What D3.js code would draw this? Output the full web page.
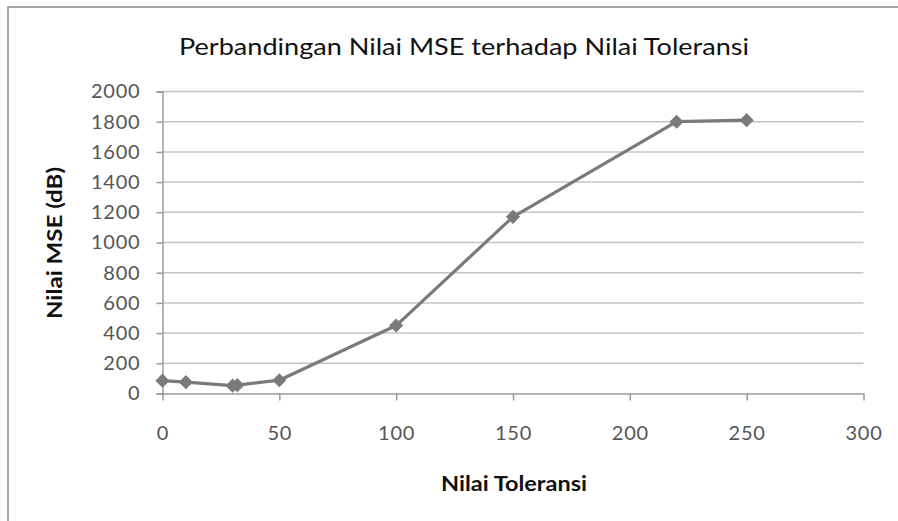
<!DOCTYPE html>
<html>
<head>
<meta charset="utf-8">
<script src="https://cdn.jsdelivr.net/npm/d3@7"></script>
<style>
  html, body { margin: 0; padding: 0; background: #fff; }
  svg { display: block; }
  text { font-family: Lato, "Open Sans", sans-serif; }
</style>
</head>
<body>
<script>
const tolerance = [0, 10, 30, 32, 50, 100, 150, 220, 250];
const mse = [85, 75, 52, 55, 88, 450, 1170, 1800, 1810];
const xTicks = [0, 50, 100, 150, 200, 250, 300];
const yTicks = [0, 200, 400, 600, 800, 1000, 1200, 1400, 1600, 1800, 2000];
const title = "Perbandingan Nilai MSE terhadap Nilai Toleransi";
const xTitle = "Nilai Toleransi";
const yTitle = "Nilai MSE (dB)";

const W = 898, H = 521;
const svg = d3.select("body").append("svg").attr("width", W).attr("height", H);

// outer frame
svg.append("rect").attr("x", 8).attr("y", 7).attr("width", W + 10).attr("height", H + 10)
  .attr("fill", "#fff").attr("stroke", "#8a8a8a").attr("stroke-width", 1.5);

const x = d3.scaleLinear().domain([0, 300]).range([162.5, 863.5]);
const y = d3.scaleLinear().domain([0, 2000]).range([393.5, 91.5]);

// gridlines
svg.append("g").selectAll("line").data(yTicks.filter(d => d > 0)).join("line")
  .attr("x1", x(0)).attr("x2", x(300))
  .attr("y1", d => y(d)).attr("y2", d => y(d))
  .attr("stroke", "#c4c4c4").attr("stroke-width", 1.5);

// y axis
const yAxis = svg.append("g").attr("transform", `translate(${x(0)},0)`)
  .call(d3.axisLeft(y).tickValues(yTicks).tickSize(6).tickPadding(16).tickFormat(d3.format("d")));
yAxis.select(".domain").attr("stroke", "#9a9a9a").attr("stroke-width", 1.5);
yAxis.selectAll(".tick line").attr("stroke", "#9a9a9a").attr("stroke-width", 1.5);
yAxis.selectAll(".tick text").attr("fill", "#555").style("font-size", "20px")
  .style("letter-spacing", "0.8px").style("font-family", "Lato, sans-serif");

// x axis
const xAxis = svg.append("g").attr("transform", `translate(0,${y(0)})`)
  .call(d3.axisBottom(x).tickValues(xTicks).tickSize(7).tickSizeOuter(0).tickPadding(25).tickFormat(d3.format("d")));
xAxis.select(".domain").attr("stroke", "#9a9a9a").attr("stroke-width", 1.5);
xAxis.selectAll(".tick line").attr("stroke", "#9a9a9a").attr("stroke-width", 1.5);
xAxis.selectAll(".tick text").attr("fill", "#555").style("font-size", "20px")
  .style("letter-spacing", "0.8px").style("font-family", "Lato, sans-serif");

// line
const pts = tolerance.map((t, i) => [t, mse[i]]);
svg.append("path").datum(pts)
  .attr("fill", "none").attr("stroke", "#7a7a7a").attr("stroke-width", 3.2)
  .attr("stroke-linejoin", "round")
  .attr("d", d3.line().x(d => x(d[0])).y(d => y(d[1])));

// markers (square diamonds)
svg.append("g").selectAll("path").data(pts).join("path")
  .attr("transform", d => `translate(${x(d[0])},${y(d[1])}) rotate(45)`)
  .attr("d", d3.symbol(d3.symbolSquare, 100))
  .attr("fill", "#7a7a7a");

// title
svg.append("text").attr("x", 464).attr("y", 55).attr("text-anchor", "middle")
  .attr("textLength", 570).attr("lengthAdjust", "spacingAndGlyphs")
  .style("font-size", "24px").attr("fill", "#111").text(title);

svg.append("text").attr("x", 514).attr("y", 491).attr("text-anchor", "middle")
  .attr("textLength", 146).attr("lengthAdjust", "spacingAndGlyphs")
  .style("font-size", "20px").style("font-weight", "bold").attr("fill", "#111").text(xTitle);

svg.append("text").attr("transform", `translate(62,243) rotate(-90)`).attr("text-anchor", "middle")
  .attr("textLength", 152).attr("lengthAdjust", "spacingAndGlyphs")
  .style("font-size", "20px").style("font-weight", "bold").attr("fill", "#111").text(yTitle);
</script>
</body>
</html>
